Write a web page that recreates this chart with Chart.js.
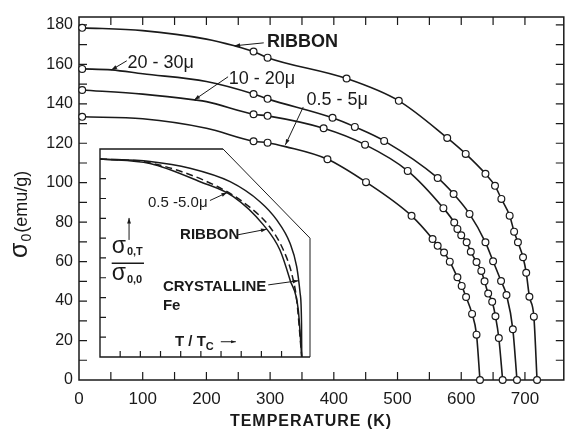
<!DOCTYPE html>
<html>
<head>
<meta charset="utf-8">
<title>sigma vs temperature</title>
<script src="https://cdn.jsdelivr.net/npm/chart.js@4"></script>
<style>
  body { margin: 0; background: #fff; }
  #wrap { position: relative; width: 569px; height: 434px; }
  #main { position: absolute; left: 0; top: 0; }
  #inset { position: absolute; left: 90px; top: 139px; }
</style>
</head>
<body>
<div id="wrap">
  <canvas id="main" width="569" height="434"></canvas>
  <canvas id="inset" width="230" height="228"></canvas>
</div>
<script>
// axis ticks
const xTickLabels = [0, 100, 200, 300, 400, 500, 600, 700];
const yTickLabels = [0, 20, 40, 60, 80, 100, 120, 140, 160, 180];
const xMinorTicks = [50, 100, 150, 200, 250, 300, 350, 400, 450, 500, 550, 600, 650, 700];
const yMinorTicks = [10, 20, 30, 40, 50, 60, 70, 80, 90, 100, 110, 120, 130, 140, 150, 160, 170, 180];
const insetTicks = [0.1, 0.2, 0.3, 0.4, 0.5, 0.6, 0.7, 0.8, 0.9];

// measured points (circles), T in K, sigma in emu/g
const ribbonT = [5, 274, 296, 420, 502, 578, 607, 638, 653, 663, 676, 683, 689, 697, 702, 707, 714, 719];
const ribbonS = [178.5, 166.5, 163.4, 152.8, 141.5, 122.7, 114.6, 104.5, 98.4, 91.8, 83.3, 75.2, 69.8, 62.2, 54.4, 42.2, 32.1, 0];
const coarseT = [5, 274, 296, 398, 433, 479, 563, 588, 613, 638, 650, 662.5, 671, 681, 687.5];
const coarseS = [157.7, 145, 142.5, 132.9, 128.3, 121.2, 102.4, 94.3, 84.2, 69.8, 60.2, 50.2, 43.1, 25.7, 0];
const mediumT = [5, 274, 296, 384, 449, 516, 572, 589, 594, 600, 608.5, 615, 624, 631.5, 636.6, 642.3, 648.6, 653.7, 659, 665];
const mediumS = [147, 134.7, 133.9, 127.6, 119.3, 106, 87.1, 79.8, 76.6, 73.4, 69.8, 65, 59.8, 55.3, 50, 43.8, 39.7, 32.3, 21.3, 0];
const fineT = [5, 274, 296, 390, 450.5, 522, 555, 563, 573, 582, 594, 600.7, 607.6, 617, 624, 629.4];
const fineS = [133.4, 121, 120.3, 111.9, 100.3, 83.2, 71.5, 68, 64.6, 60, 52.1, 47.7, 42.1, 33.5, 23, 0];

// where the drawn curves pass between the circles
const ribbonLineT = [100, 200, 244];
const ribbonLineS = [177.1, 172.8, 169.4];
const coarseLineT = [51, 100, 200];
const coarseLineS = [157.2, 155.2, 151.3];
const mediumLineT = [100, 181, 200];
const mediumLineS = [144.9, 142, 141.1];
const fineLineT = [100, 200, 324];
const fineLineS = [132.4, 127.6, 118.3];

// inset: sigma(0,T)/sigma(0,0) against T/Tc
const crystX = [0, 0.248, 0.446, 0.645, 0.793, 0.876, 0.942, 0.975, 0.992, 0.999, 1.0];
const crystY = [1.0, 0.987, 0.953, 0.885, 0.784, 0.692, 0.574, 0.456, 0.322, 0.17, 0];
const powderX = [0, 0.248, 0.579, 0.744, 0.843, 0.909, 0.95, 0.975, 1.0];
const powderY = [1.0, 0.98, 0.862, 0.755, 0.655, 0.54, 0.422, 0.288, 0];
const ribbonInX = [0, 0.248, 0.496, 0.661, 0.81, 0.892, 0.942, 0.983, 1.0];
const ribbonInY = [1.0, 0.977, 0.885, 0.81, 0.667, 0.54, 0.389, 0.237, 0];

const INK = '#1a1a1a';
const FONT = '"Liberation Sans", Arial, sans-serif';
Chart.defaults.font.family = FONT;
Chart.defaults.color = INK;

function pts(xs, ys) { return xs.map((x, i) => ({ x: x, y: ys[i] })); }

const curves = [
  [ribbonT, ribbonS, ribbonLineT, ribbonLineS],
  [coarseT, coarseS, coarseLineT, coarseLineS],
  [mediumT, mediumS, mediumLineT, mediumLineS],
  [fineT, fineS, fineLineT, fineLineS]
];

const mainSets = [];
curves.forEach(c => {
  mainSets.push({
    data: pts(c[0], c[1]), showLine: false, order: 0, clip: false,
    pointRadius: 3.4, pointBackgroundColor: '#fff', pointBorderColor: INK, pointBorderWidth: 1.2
  });
  mainSets.push({
    data: pts(c[0].concat(c[2]), c[1].concat(c[3])).sort((a, b) => a.x - b.x),
    showLine: true, order: 1, clip: false, pointRadius: 0,
    borderColor: INK, borderWidth: 1.6, cubicInterpolationMode: 'monotone'
  });
});

// labels with leaders: [T, sigma] for text, leader start and arrow tip
const mainNotes = [
  { text: 'RIBBON', bold: true, at: [295, 171.4], from: [290, 170.9], tip: [244, 169.4] },
  { text: '20 - 30μ', at: [76, 160.8], from: [75, 161.8], tip: [51, 157.2] },
  { text: '10 - 20μ', at: [235, 152.6], from: [234, 153.7], tip: [181, 142] },
  { text: '0.5 - 5μ', at: [357, 142], from: [352, 138.4], tip: [324, 119.2] }
];
const insetNotes = [
  { text: '0.5 -5.0μ', at: [0.238, 0.778], from: [0.545, 0.79], tip: [0.63, 0.83] },
  { text: 'RIBBON', bold: true, at: [0.397, 0.616], from: [0.679, 0.616], tip: [0.826, 0.645] },
  { text: 'CRYSTALLINE', bold: true, at: [0.312, 0.355], from: [0.834, 0.364], tip: [0.983, 0.385] },
  { text: 'Fe', bold: true, at: [0.312, 0.258] }
];

function leader(ctx, x1, y1, x2, y2, head) {
  ctx.beginPath(); ctx.moveTo(x1, y1); ctx.lineTo(x2, y2); ctx.stroke();
  const a = Math.atan2(y2 - y1, x2 - x1);
  ctx.beginPath();
  ctx.moveTo(x2, y2);
  ctx.lineTo(x2 - head * Math.cos(a - 0.33), y2 - head * Math.sin(a - 0.33));
  ctx.lineTo(x2 - head * Math.cos(a + 0.33), y2 - head * Math.sin(a + 0.33));
  ctx.closePath(); ctx.fill();
}

function drawNotes(chart, notes, size) {
  const { ctx, scales: { x, y } } = chart;
  ctx.save();
  ctx.fillStyle = INK; ctx.strokeStyle = INK; ctx.lineWidth = 1;
  ctx.textBaseline = 'middle'; ctx.textAlign = 'left';
  notes.forEach(n => {
    ctx.font = (n.bold ? 'bold ' : '') + size + 'px ' + FONT;
    ctx.fillText(n.text, x.getPixelForValue(n.at[0]), y.getPixelForValue(n.at[1]));
    if (n.tip) {
      leader(ctx, x.getPixelForValue(n.from[0]), y.getPixelForValue(n.from[1]),
        x.getPixelForValue(n.tip[0]), y.getPixelForValue(n.tip[1]), 6);
    }
  });
  ctx.restore();
}

const mainDeco = {
  id: 'mainDeco',
  beforeDraw(chart) {
    const { ctx, width, height } = chart;
    ctx.save(); ctx.fillStyle = '#fff'; ctx.fillRect(0, 0, width, height); ctx.restore();
  },
  beforeDatasetsDraw(chart) {
    const { ctx, chartArea: a, scales: { x, y } } = chart;
    ctx.save();
    ctx.strokeStyle = INK;
    ctx.lineWidth = 1.5;
    ctx.strokeRect(a.left, a.top, a.right - a.left, a.bottom - a.top);
    ctx.lineWidth = 1.2;
    ctx.beginPath();
    xMinorTicks.forEach(v => {
      const px = x.getPixelForValue(v);
      ctx.moveTo(px, a.bottom); ctx.lineTo(px, a.bottom - 8);
      ctx.moveTo(px, a.top); ctx.lineTo(px, a.top + 8);
    });
    yMinorTicks.forEach(v => {
      const py = y.getPixelForValue(v);
      ctx.moveTo(a.left, py); ctx.lineTo(a.left + 8, py);
      ctx.moveTo(a.right, py); ctx.lineTo(a.right - 8, py);
    });
    ctx.stroke();

    // axis titles
    ctx.fillStyle = INK;
    ctx.font = 'bold 16px ' + FONT;
    ctx.textAlign = 'center'; ctx.textBaseline = 'middle';
    ctx.letterSpacing = '1px';
    ctx.fillText('TEMPERATURE (K)', 311, 422);
    ctx.letterSpacing = '0px';

    ctx.translate(27, 258);
    ctx.rotate(-Math.PI / 2);
    ctx.textAlign = 'left'; ctx.textBaseline = 'alphabetic';
    ctx.font = '25px ' + FONT;
    ctx.fillText('σ', 0, 0);
    let w = ctx.measureText('σ').width + 1;
    ctx.font = '14px ' + FONT;
    ctx.fillText('0', w, 4);
    w += ctx.measureText('0').width + 1;
    ctx.font = '18px ' + FONT;
    ctx.fillText('(emu/g)', w, 0);
    ctx.restore();
  },
  afterDatasetsDraw(chart) { drawNotes(chart, mainNotes, 18); }
};

new Chart(document.getElementById('main'), {
  type: 'scatter',
  data: { datasets: mainSets },
  options: {
    responsive: false, animation: false, devicePixelRatio: 1, events: [],
    layout: { padding: { left: 0, right: 2, top: 17, bottom: 0 } },
    plugins: { legend: { display: false }, tooltip: { enabled: false } },
    scales: {
      x: {
        type: 'linear', min: 0, max: 761,
        grid: { display: false, drawTicks: false }, border: { display: false },
        afterBuildTicks: s => { s.ticks = xTickLabels.map(v => ({ value: v })); },
        afterFit: s => { s.height = 54; },
        ticks: { color: INK, font: { size: 17 }, padding: 9, maxRotation: 0, autoSkip: false }
      },
      y: {
        type: 'linear', min: 0, max: 184,
        grid: { display: false, drawTicks: false }, border: { display: false },
        afterBuildTicks: s => { s.ticks = yTickLabels.map(v => ({ value: v })); },
        afterFit: s => { s.width = 79; },
        ticks: { color: INK, font: { size: 16 }, padding: 6, autoSkip: false }
      }
    }
  },
  plugins: [mainDeco]
});

const insetDeco = {
  id: 'insetDeco',
  beforeDatasetsDraw(chart) {
    const { ctx, chartArea: a, scales: { x, y } } = chart;
    const cx = x.getPixelForValue(0.61), cy = y.getPixelForValue(0.6);
    ctx.save();
    ctx.strokeStyle = INK;
    ctx.lineWidth = 1.4;
    ctx.beginPath();
    ctx.moveTo(cx, a.top); ctx.lineTo(a.left, a.top); ctx.lineTo(a.left, a.bottom); ctx.lineTo(a.right, a.bottom);
    ctx.stroke();
    ctx.lineWidth = 1;
    ctx.beginPath();
    ctx.moveTo(cx, a.top); ctx.lineTo(a.right, cy); ctx.lineTo(a.right, a.bottom);
    ctx.stroke();
    ctx.lineWidth = 1.2;
    ctx.beginPath();
    insetTicks.forEach(v => {
      const px = x.getPixelForValue(v), py = y.getPixelForValue(v);
      ctx.moveTo(px, a.bottom); ctx.lineTo(px, a.bottom - 6);
      ctx.moveTo(a.left, py); ctx.lineTo(a.left + 6, py);
    });
    ctx.stroke();
    ctx.restore();
  },
  afterDatasetsDraw(chart) {
    drawNotes(chart, insetNotes, 15);
    const { ctx, scales: { x, y } } = chart;
    ctx.save();
    ctx.fillStyle = INK; ctx.strokeStyle = INK;
    ctx.textAlign = 'left'; ctx.textBaseline = 'middle';

    // T / Tc ->
    let px = x.getPixelForValue(0.372), py = y.getPixelForValue(0.077);
    ctx.font = 'bold 15px ' + FONT;
    ctx.fillText('T / T', px, py);
    px += ctx.measureText('T / T').width;
    ctx.font = 'bold 11px ' + FONT;
    ctx.fillText('C', px, py + 5);
    px += ctx.measureText('C').width + 7;
    ctx.lineWidth = 1;
    leader(ctx, px, py, px + 15, py, 5);

    // up arrow and ratio
    const ax = x.getPixelForValue(0.144);
    leader(ctx, ax, y.getPixelForValue(0.591), ax, y.getPixelForValue(0.702), 6);
    const left = x.getPixelForValue(0.058), right = x.getPixelForValue(0.218);
    const bar = y.getPixelForValue(0.473);
    ctx.lineWidth = 1.4;
    ctx.beginPath(); ctx.moveTo(left, bar); ctx.lineTo(right, bar); ctx.stroke();
    [['0,T', 0.548], ['0,0', 0.41]].forEach(r => {
      const yy = y.getPixelForValue(r[1]);
      ctx.font = '23px ' + FONT;
      ctx.fillText('σ', left, yy - 2);
      const w = ctx.measureText('σ').width;
      ctx.font = 'bold 11px ' + FONT;
      ctx.fillText(r[0], left + w + 1, yy + 4);
    });
    ctx.restore();
  }
};

new Chart(document.getElementById('inset'), {
  type: 'scatter',
  data: {
    datasets: [
      { data: pts(crystX, crystY), showLine: true, pointRadius: 0, borderColor: INK, borderWidth: 1.5, cubicInterpolationMode: 'monotone' },
      { data: pts(powderX, powderY), showLine: true, pointRadius: 0, borderColor: INK, borderWidth: 1.5, borderDash: [7, 4], cubicInterpolationMode: 'monotone' },
      { data: pts(ribbonInX, ribbonInY), showLine: true, pointRadius: 0, borderColor: INK, borderWidth: 1.5, cubicInterpolationMode: 'monotone' }
    ]
  },
  options: {
    responsive: false, animation: false, devicePixelRatio: 1, events: [],
    layout: { padding: { left: 10, right: 10, top: 10, bottom: 10 } },
    plugins: { legend: { display: false }, tooltip: { enabled: false } },
    scales: {
      x: { type: 'linear', min: 0, max: 1.041, display: false },
      y: { type: 'linear', min: 0, max: 1.05, display: false }
    }
  },
  plugins: [insetDeco]
});
</script>
</body>
</html>
